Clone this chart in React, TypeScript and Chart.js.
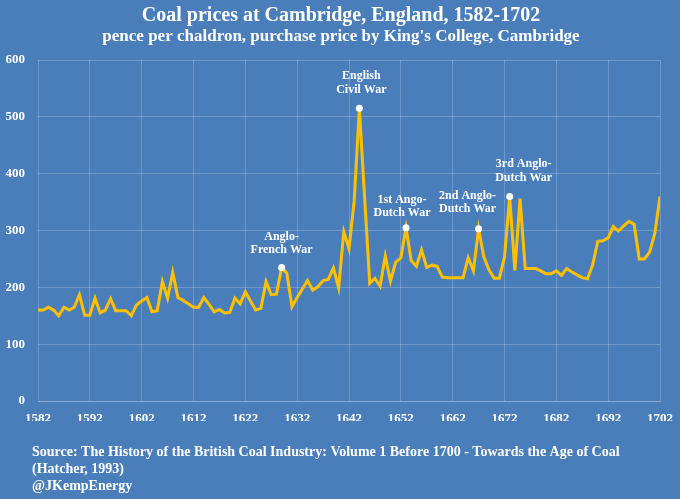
import React, { useEffect, useRef } from 'react';
import { Chart, registerables } from 'chart.js';

Chart.register(...registerables);

const years = [
  1582, 1583, 1584, 1585, 1586, 1587, 1588, 1589, 1590, 1591,
  1592, 1593, 1594, 1595, 1596, 1597, 1598, 1599, 1600, 1601,
  1602, 1603, 1604, 1605, 1606, 1607, 1608, 1609, 1610, 1611,
  1612, 1613, 1614, 1615, 1616, 1617, 1618, 1619, 1620, 1621,
  1622, 1623, 1624, 1625, 1626, 1627, 1628, 1629, 1630, 1631,
  1632, 1633, 1634, 1635, 1636, 1637, 1638, 1639, 1640, 1641,
  1642, 1643, 1644, 1645, 1646, 1647, 1648, 1649, 1650, 1651,
  1652, 1653, 1654, 1655, 1656, 1657, 1658, 1659, 1660, 1661,
  1662, 1663, 1664, 1665, 1666, 1667, 1668, 1669, 1670, 1671,
  1672, 1673, 1674, 1675, 1676, 1677, 1678, 1679, 1680, 1681,
  1682, 1683, 1684, 1685, 1686, 1687, 1688, 1689, 1690, 1691,
  1692, 1693, 1694, 1695, 1696, 1697, 1698, 1699, 1700, 1701,
  1702,
];

const prices = [
  160, 160, 165, 160, 150, 165, 160, 165, 187, 151,
  151, 181, 155, 160, 180, 159, 159, 159, 150, 169,
  176, 182, 157, 159, 210, 181, 226, 182, 177, 171,
  165, 165, 182, 170, 157, 161, 155, 156, 181, 171,
  192, 176, 160, 163, 210, 187, 188, 235, 225, 166,
  182, 197, 212, 195, 201, 212, 214, 234, 199, 298,
  268, 352, 515, 360, 207, 216, 202, 255, 211, 244,
  252, 305, 247, 237, 266, 235, 239, 237, 218, 217,
  217, 217, 217, 252, 229, 303, 254, 231, 216, 216,
  253, 360, 230, 356, 233, 233, 233, 229, 224, 224,
  229, 221, 233, 227, 222, 217, 215, 239, 281, 282,
  287, 307, 299, 308, 316, 311, 250, 250, 262, 295,
  360,
];

const xTickYears = [1582, 1592, 1602, 1612, 1622, 1632, 1642, 1652, 1662, 1672, 1682, 1692, 1702];
const yTickValues = [0, 100, 200, 300, 400, 500, 600];

const eventYears = [1629, 1644, 1653, 1667, 1673];
const eventLabels = [
  ['Anglo-', 'French War'],
  ['English', 'Civil War'],
  ['1st Ango-', 'Dutch War'],
  ['2nd Anglo-', 'Dutch War'],
  ['3rd Anglo-', 'Dutch War'],
];
// label placement relative to each event dot (dx, dy of first line centre)
const eventLabelOffsets = [
  [0, -31],
  [2, -32],
  [-4, -28],
  [-11, -33],
  [14, -32],
];

const titleText = 'Coal prices at Cambridge, England, 1582-1702';
const subtitleText = "pence per chaldron, purchase price by King's College, Cambridge";
const sourceLines = [
  'Source: The History of the British Coal Industry: Volume 1 Before 1700 - Towards the Age of Coal',
  '(Hatcher, 1993)',
  '@JKempEnergy',
];

const BG = '#4a7ebb';
const GRID = 'rgba(255,255,255,0.2)';
const LINE = '#FFC000';
const SERIF = '"Liberation Serif", "DejaVu Serif", serif';

export default function App() {
  const canvasRef = useRef<HTMLCanvasElement | null>(null);

  useEffect(() => {
    const canvas = canvasRef.current;
    if (!canvas) return;

    const decorPlugin = {
      id: 'decor',
      beforeDraw(chart: any) {
        const ctx = chart.ctx;
        ctx.save();
        ctx.fillStyle = BG;
        ctx.fillRect(0, 0, chart.width, chart.height);
        ctx.restore();
      },
      afterDraw(chart: any) {
        const ctx = chart.ctx;
        const xs = chart.scales.x;
        const ys = chart.scales.y;
        ctx.save();
        ctx.fillStyle = '#ffffff';
        ctx.textAlign = 'center';
        ctx.textBaseline = 'middle';
        ctx.font = `bold 20px ${SERIF}`;
        ctx.fillText(titleText, 341, 16);
        ctx.font = `bold 17px ${SERIF}`;
        ctx.fillText(subtitleText, 341, 37);

        ctx.font = `bold 12px ${SERIF}`;
        eventYears.forEach((yr, i) => {
          const idx = years.indexOf(yr);
          const px = xs.getPixelForValue(yr);
          const py = ys.getPixelForValue(prices[idx]);
          const [dx, dy] = eventLabelOffsets[i];
          eventLabels[i].forEach((line, j) => {
            ctx.fillText(line, px + dx, py + dy + j * 13.5);
          });
        });

        ctx.textAlign = 'left';
        ctx.font = `bold 14px ${SERIF}`;
        sourceLines.forEach((line, j) => {
          ctx.fillText(line, 32, 452 + j * 17);
        });
        ctx.restore();
      },
    };

    const chart = new Chart(canvas, {
      type: 'line',
      data: {
        datasets: [
          {
            label: 'Coal price',
            data: years.map((y, i) => ({ x: y, y: prices[i] })),
            borderColor: LINE,
            borderWidth: 3,
            pointRadius: 0,
            tension: 0,
            fill: false,
            order: 2,
          },
          {
            label: 'Events',
            data: eventYears.map((y) => ({ x: y, y: prices[years.indexOf(y)] })),
            showLine: false,
            pointRadius: 3.5,
            pointBackgroundColor: '#ffffff',
            pointBorderColor: '#ffffff',
            pointBorderWidth: 0,
            order: 1,
          },
        ],
      },
      options: {
        responsive: false,
        animation: false,
        layout: { padding: { top: 60, left: 0, right: 20, bottom: 78 } },
        plugins: {
          legend: { display: false },
          title: { display: false },
          tooltip: { enabled: false },
        },
        scales: {
          x: {
            type: 'linear',
            min: 1582,
            max: 1702,
            afterBuildTicks: (scale: any) => {
              scale.ticks = xTickYears.map((v) => ({ value: v }));
            },
            afterFit: (scale: any) => {
              scale.height = 20;
              scale.paddingLeft = 0;
              scale.paddingRight = 0;
            },
            grid: { color: GRID, drawTicks: false, lineWidth: 1 },
            border: { display: true, color: GRID },
            ticks: {
              color: '#ffffff',
              padding: 10,
              maxRotation: 0,
              autoSkip: false,
              font: { family: SERIF, size: 13, weight: 'bold' },
              callback: (v: any) => String(v),
            },
          },
          y: {
            min: 0,
            max: 600,
            afterBuildTicks: (scale: any) => {
              scale.ticks = yTickValues.map((v) => ({ value: v }));
            },
            afterFit: (scale: any) => {
              scale.width = 38;
            },
            grid: { color: GRID, drawTicks: false, lineWidth: 1 },
            border: { display: false },
            ticks: {
              color: '#ffffff',
              padding: 13,
              font: { family: SERIF, size: 13, weight: 'bold' },
            },
          },
        },
      },
      plugins: [decorPlugin],
    } as any);

    return () => {
      chart.destroy();
    };
  }, []);

  return (
    <div style={{ position: 'fixed', left: 0, top: 0, width: 680, height: 499, background: BG }}>
      <canvas ref={canvasRef} width={680} height={499} />
    </div>
  );
}
